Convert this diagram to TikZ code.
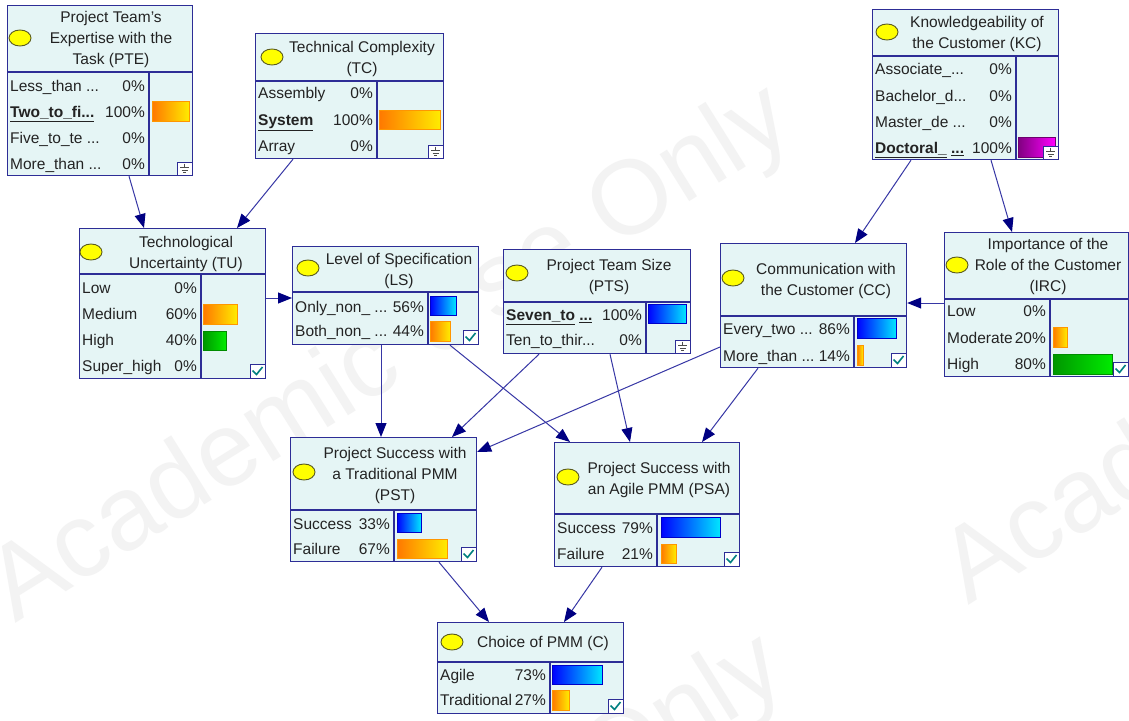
\documentclass[tikz,border=0pt]{standalone}
\usepackage{fontspec}
\setmainfont{Liberation Sans}
\usetikzlibrary{arrows.meta}
\definecolor{boxfill}{RGB}{229,245,245}
\definecolor{boxline}{RGB}{45,45,150}
\definecolor{edgeline}{RGB}{55,55,165}
\definecolor{arrowhd}{RGB}{0,0,130}
\definecolor{txt}{RGB}{35,35,35}
\definecolor{bulbfill}{RGB}{255,255,0}
\definecolor{bulbline}{RGB}{90,90,30}
\definecolor{chk}{RGB}{0,128,128}
\definecolor{wmark}{RGB}{243,243,243}
\definecolor{obarA}{RGB}{255,120,0}
\definecolor{obarB}{RGB}{255,235,0}
\definecolor{obarL}{RGB}{255,150,0}
\definecolor{bbarA}{RGB}{0,0,255}
\definecolor{bbarB}{RGB}{0,230,255}
\definecolor{bbarL}{RGB}{0,0,200}
\definecolor{gbarA}{RGB}{0,150,0}
\definecolor{gbarB}{RGB}{0,235,0}
\definecolor{gbarL}{RGB}{0,140,0}
\definecolor{pbarA}{RGB}{128,0,128}
\definecolor{pbarB}{RGB}{255,0,255}
\definecolor{pbarL}{RGB}{110,0,110}
\newcounter{tn}
\tikzset{
  bnbox/.style={draw=boxline, fill=boxfill, line width=1.2pt, inner sep=0pt},
  divline/.style={draw=boxline, line width=1.2pt},
  ttl/.style={font=\fontsize{15.5}{21}\selectfont, text=txt, inner sep=0pt, anchor=base},
  stx/.style={font=\fontsize{15.5}{21}\selectfont, text=txt, inner sep=0pt, anchor=base west},
  pct/.style={font=\fontsize{15.5}{21}\selectfont, text=txt, inner sep=0pt, anchor=base east},
  edge/.style={draw=edgeline, line width=1pt, -{Triangle[length=14pt,width=11pt,color=arrowhd]}},
  bulb/.style={draw=bulbline, fill=bulbfill, line width=0.9pt},
  obar/.style={draw=obarL, line width=0.8pt, left color=obarA, right color=obarB},
  bbar/.style={draw=bbarL, line width=0.8pt, left color=bbarA, right color=bbarB},
  gbar/.style={draw=gbarL, line width=0.8pt, left color=gbarA, right color=gbarB},
  pbar/.style={draw=pbarL, line width=0.8pt, left color=pbarA, right color=pbarB},
  iconbox/.style={draw=boxline, fill=white, line width=1pt},
  gnd/.style={draw=black!70, line width=0.8pt},
  chkline/.style={draw=chk, line width=1.6pt},
  wm/.style={font=\fontsize{105}{110}\selectfont, text=wmark, inner sep=0pt},
}
\newcommand\bnframe[7]{%
  \node[bnbox, anchor=north west, minimum width={(#4-#2)*1pt}, minimum height={(#5-#3)*1pt}] (#1) at (#2,#3) {};
  \draw[divline] (#2,#6) -- (#4,#6);
  \draw[divline] (#7,#6) -- (#7,#5);
}
\newcommand\bnrow[5]{%
  \stepcounter{tn}\node[stx] (s\arabic{tn}) at (#1+3,#3+5.5) {#4};
  \node[pct] (p\arabic{tn}) at (#2-4,#3+5.5) {#5};
}
\newcommand\bnbar[5]{\draw[#5] (#1,#2) rectangle (#3,#4);}
\newcommand\bntitle[4]{%
  \foreach \t [count=\i] in {#4} {\node[ttl] (#1-t\i) at (#2,#3+5.5+21*\i-21) {\t};}
}
\newcommand\bnground[2]{%
  \draw[iconbox] (#1-15,#2-13) rectangle (#1,#2);
  \draw[gnd] (#1-7.5,#2-11.5) -- (#1-7.5,#2-7.5)
             (#1-12,#2-7.5) -- (#1-3,#2-7.5)
             (#1-10.5,#2-5) -- (#1-4.5,#2-5)
             (#1-9,#2-2.5) -- (#1-6,#2-2.5);
}
\newcommand\bncheck[2]{%
  \draw[iconbox] (#1-15,#2-14) rectangle (#1,#2);
  \draw[chkline] (#1-12.5,#2-7.5) -- (#1-8.5,#2-3.5) -- (#1-2.5,#2-11);
}
\begin{document}
\begin{tikzpicture}[x=1pt,y=-1pt]
\useasboundingbox (0,0) rectangle (1129,720);
\fill[white] (0,0) rectangle (1129,720);
% watermark
\begin{scope}
\clip (0,0) rectangle (1129,720);
\node[wm, rotate=32] (wm1) at (392,356) {Academic Use Only};
\node[wm, rotate=32] (wm2) at (1345,338) {Academic Use Only};
\node[wm, rotate=32] (wm3) at (385,905) {Academic Use Only};
\end{scope}

% PTE
\bnframe{pte}{7}{5}{192}{175}{72}{149}
\draw[bulb] (20,38) ellipse [x radius=11, y radius=8];
\bntitle{pte}{111}{17}{{Project Team's},{Expertise with the},{Task (PTE)}}
\bnrow{7}{149}{86}{Less\_than ...}{0\%}
\bnrow{7}{149}{112}{\underline{\textbf{Two\_to\_fi...}}}{100\%}
\bnrow{7}{149}{138}{Five\_to\_te ...}{0\%}
\bnrow{7}{149}{164}{More\_than ...}{0\%}
\bnbar{152}{101}{189}{121}{obar}
\bnground{192}{175}

% TC
\bnframe{tc}{255}{33}{443}{158}{81}{377}
\draw[bulb] (272,57) ellipse [x radius=11, y radius=8];
\bntitle{tc}{362}{47}{{Technical Complexity},{(TC)}}
\bnrow{255}{377}{93}{Assembly}{0\%}
\bnrow{255}{377}{120}{\underline{\textbf{System}}}{100\%}
\bnrow{255}{377}{146}{Array}{0\%}
\bnbar{379}{110}{440}{129}{obar}
\bnground{443}{158}

% KC
\bnframe{kc}{872}{9}{1058}{159}{56}{1016}
\draw[bulb] (887,32) ellipse [x radius=11, y radius=8];
\bntitle{kc}{977}{22}{{Knowledgeability of},{the Customer (KC)}}
\bnrow{872}{1016}{69}{Associate\_...}{0\%}
\bnrow{872}{1016}{96}{Bachelor\_d...}{0\%}
\bnrow{872}{1016}{122}{Master\_de ...}{0\%}
\bnrow{872}{1016}{148}{\underline{\textbf{Doctoral\_}} \underline{\textbf{...}}}{100\%}
\bnbar{1018}{137}{1055}{157}{pbar}
\bnground{1058}{159}

% TU
\bnframe{tu}{79}{228}{265}{378}{274}{201}
\draw[bulb] (91,252) ellipse [x radius=11, y radius=8];
\bntitle{tu}{186}{242}{{Technological},{Uncertainty (TU)}}
\bnrow{79}{201}{288}{Low}{0\%}
\bnrow{79}{201}{314}{Medium}{60\%}
\bnrow{79}{201}{340}{High}{40\%}
\bnrow{79}{201}{366}{Super\_high}{0\%}
\bnbar{203}{304}{237}{324}{obar}
\bnbar{203}{331}{226}{350}{gbar}
\bncheck{265}{378}

% LS
\bnframe{ls}{292}{246}{478}{344}{292}{428}
\draw[bulb] (308,268) ellipse [x radius=11, y radius=8];
\bntitle{ls}{399}{259}{{Level of Specification},{(LS)}}
\bnrow{292}{428}{307}{Only\_non\_ ...}{56\%}
\bnrow{292}{428}{331}{Both\_non\_ ...}{44\%}
\bnbar{430}{296}{456}{315}{bbar}
\bnbar{430}{321}{450}{341}{obar}
\bncheck{478}{344}

% PTS
\bnframe{pts}{503}{249}{690}{353}{302}{646}
\draw[bulb] (517,273) ellipse [x radius=11, y radius=8];
\bntitle{pts}{609}{265}{{Project Team Size},{(PTS)}}
\bnrow{503}{646}{315}{\underline{\textbf{Seven\_to}} \underline{\textbf{...}}}{100\%}
\bnrow{503}{646}{340}{Ten\_to\_thir...}{0\%}
\bnbar{648}{304}{686}{323}{bbar}
\bnground{690}{353}

% CC
\bnframe{cc}{720}{243}{906}{367}{316}{854}
\draw[bulb] (733,278) ellipse [x radius=11, y radius=8];
\bntitle{cc}{826}{269}{{Communication with},{the Customer (CC)}}
\bnrow{720}{854}{329}{Every\_two ...}{86\%}
\bnrow{720}{854}{356}{More\_than ...}{14\%}
\bnbar{857}{318}{896}{338}{bbar}
\bnbar{857}{345}{863}{365}{obar}
\bncheck{906}{367}

% IRC
\bnframe{irc}{944}{232}{1128}{376}{299}{1050}
\draw[bulb] (957,265) ellipse [x radius=11, y radius=8];
\bntitle{irc}{1048}{244}{{Importance of the},{Role of the Customer},{(IRC)}}
\bnrow{944}{1050}{311}{Low}{0\%}
\bnrow{944}{1050}{338}{Moderate}{20\%}
\bnrow{944}{1050}{364}{High}{80\%}
\bnbar{1053}{327}{1067}{347}{obar}
\bnbar{1053}{354}{1112}{374}{gbar}
\bncheck{1128}{376}

% PST
\bnframe{pst}{290}{437}{476}{561}{510}{394}
\draw[bulb] (304,472) ellipse [x radius=11, y radius=8];
\bntitle{pst}{395}{453}{{Project Success with},{a Traditional PMM},{(PST)}}
\bnrow{290}{394}{524}{Success}{33\%}
\bnrow{290}{394}{549}{Failure}{67\%}
\bnbar{397}{513}{421}{532}{bbar}
\bnbar{397}{539}{447}{558}{obar}
\bncheck{476}{561}

% PSA
\bnframe{psa}{554}{442}{739}{566}{514}{657}
\draw[bulb] (568,477) ellipse [x radius=11, y radius=8];
\bntitle{psa}{659}{468}{{Project Success with},{an Agile PMM (PSA)}}
\bnrow{554}{657}{528}{Success}{79\%}
\bnrow{554}{657}{554}{Failure}{21\%}
\bnbar{661}{517}{720}{537}{bbar}
\bnbar{661}{544}{676}{563}{obar}
\bncheck{739}{566}

% C
\bnframe{c}{437}{622}{623}{713}{662}{550}
\draw[bulb] (452,642) ellipse [x radius=11, y radius=8];
\bntitle{c}{543}{642}{{Choice of PMM (C)}}
\bnrow{437}{550}{675}{Agile}{73\%}
\bnrow{437}{550}{700}{Traditional}{27\%}
\bnbar{552}{665}{602}{684}{bbar}
\bnbar{552}{690}{569}{710}{obar}
\bncheck{623}{713}

% edges
\draw[edge] ([xshift=122pt]pte.south west) -- ([xshift=65pt]tu.north west);
\draw[edge] ([xshift=38pt]tc.south west) -- ([xshift=158pt]tu.north west);
\draw[edge] ([yshift=-70pt]tu.north east) -- ([yshift=-52pt]ls.north west);
\draw[edge] ([xshift=89pt]ls.south west) -- ([xshift=91pt]pst.north west);
\draw[edge] ([xshift=158pt]ls.south west) -- ([xshift=16pt]psa.north west);
\draw[edge] ([xshift=36pt]pts.south west) -- ([xshift=162pt]pst.north west);
\draw[edge] ([xshift=107pt]pts.south west) -- ([xshift=76pt]psa.north west);
\draw[edge] ([yshift=-104pt]cc.north west) -- ([yshift=-15pt]pst.north east);
\draw[edge] ([xshift=38pt]cc.south west) -- ([xshift=148pt]psa.north west);
\draw[edge] ([xshift=39pt]kc.south west) -- ([xshift=135pt]cc.north west);
\draw[edge] ([xshift=119pt]kc.south west) -- ([xshift=68pt]irc.north west);
\draw[edge] ([yshift=-71pt]irc.north west) -- ([yshift=-60pt]cc.north east);
\draw[edge] ([xshift=149pt]pst.south west) -- ([xshift=52pt]c.north west);
\draw[edge] ([xshift=48pt]psa.south west) -- ([xshift=127pt]c.north west);
\end{tikzpicture}
\end{document}
